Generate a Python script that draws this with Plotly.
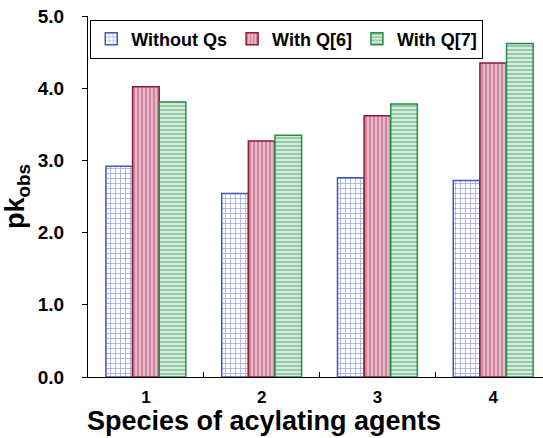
import plotly.graph_objects as go

categories = [1, 2, 3, 4]
tick_labels = ["1", "2", "3", "4"]
without_qs = [2.92, 2.54, 2.76, 2.72]
with_q6 = [4.02, 3.27, 3.62, 4.35]
with_q7 = [3.81, 3.35, 3.78, 4.62]

FONT = "Liberation Sans, Arial, sans-serif"

fig = go.Figure()
fig.add_trace(go.Bar(
    x=categories, y=without_qs, name="Without Qs",
    marker=dict(color="#eef0fb", line=dict(color="#4656b4", width=1.5),
                pattern=dict(shape="+", fgcolor="#3f52bc", bgcolor="#ffffff", size=5, solidity=0.3)),
))
fig.add_trace(go.Bar(
    x=categories, y=with_q6, name="With Q[6]",
    marker=dict(color="#e3b0c4", line=dict(color="#8e1b30", width=1.5),
                pattern=dict(shape="|", fgcolor="#a0304f", bgcolor="#e6b6c9", size=4, solidity=0.35)),
))
fig.add_trace(go.Bar(
    x=categories, y=with_q7, name="With Q[7]",
    marker=dict(color="#7fc296", line=dict(color="#2a8c48", width=1.5),
                pattern=dict(shape="-", fgcolor="#45a063", bgcolor="#e4f3e9", size=4, solidity=0.6)),
))

fig.update_layout(
    width=543, height=438,
    margin=dict(l=88, r=0, t=16, b=61),
    paper_bgcolor="white", plot_bgcolor="white",
    barmode="group", bargap=0.31, bargroupgap=0,
    font=dict(family=FONT, size=17, color="black", weight="bold"),
    showlegend=True,
    legend=dict(orientation="h", x=0.005, y=0.99, xanchor="left", yanchor="top",
                bordercolor="black", borderwidth=1, bgcolor="white",
                font=dict(family=FONT, size=18, color="black", weight="bold"),
                itemwidth=30, tracegroupgap=0),
    xaxis=dict(
        range=[0.5, 4.43], tickmode="array", tickvals=categories, ticktext=tick_labels,
        ticks="", showline=True, linecolor="black", linewidth=1, showgrid=False, zeroline=False,
        ticklabelstandoff=5,
        tickfont=dict(family=FONT, size=17, weight="bold"),
        minor=dict(tickmode="array", tickvals=[1.5, 2.5, 3.5], ticks="inside", ticklen=5,
                   tickcolor="black", showgrid=False),
    ),
    yaxis=dict(
        range=[0, 5], tickmode="array", tickvals=[0, 1, 2, 3, 4, 5],
        ticktext=["0.0", "1.0", "2.0", "3.0", "4.0", "5.0"],
        ticks="outside", ticklen=5, tickcolor="black",
        showline=True, linecolor="black", linewidth=1, showgrid=False, zeroline=False,
        ticklabelstandoff=14,
        tickfont=dict(family=FONT, size=19, weight="bold"),
        title=dict(text="pk<sub>obs</sub>", standoff=5,
                   font=dict(family=FONT, size=27, weight="bold")),
    ),
    annotations=[dict(
        text="Species of acylating agents", xref="paper", yref="paper",
        x=0.387, y=-0.166, xanchor="center", yanchor="bottom", showarrow=False,
        borderpad=0,
        font=dict(family=FONT, size=27, weight="bold", color="black"),
    )],
)

fig.write_html("out.html")
